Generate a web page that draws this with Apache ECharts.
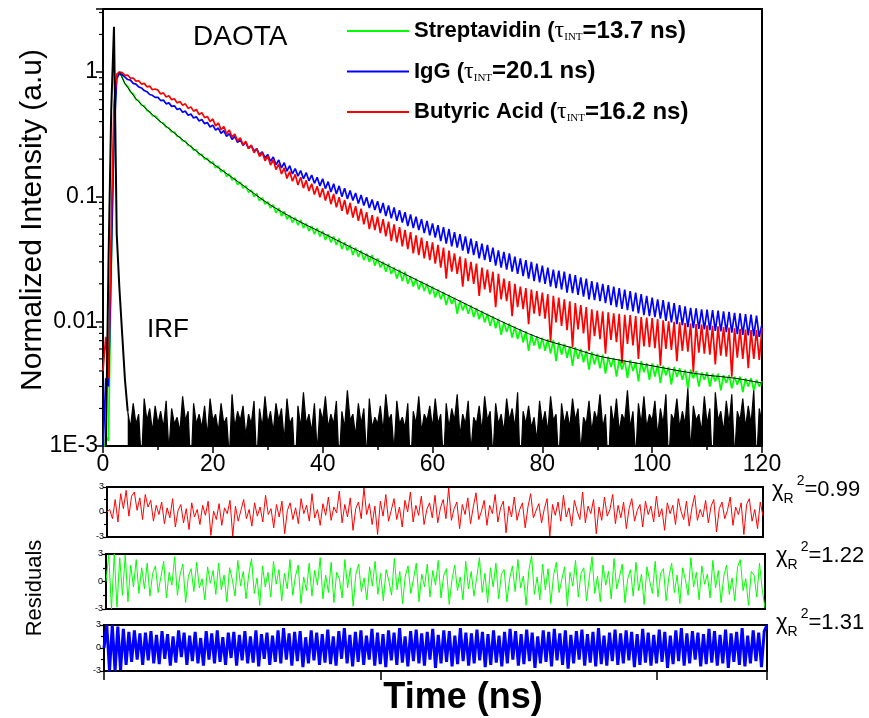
<!DOCTYPE html>
<html><head><meta charset="utf-8">
<script src="https://cdn.jsdelivr.net/npm/echarts/dist/echarts.min.js"></script>
<style>html,body{margin:0;padding:0;background:#fff}#c{width:869px;height:718px}</style>
</head><body><div id="c"></div><script>
// ---- data (time channel step in ns; every array starts at t = 0) ----
const timeStep = 0.5;
const xTickValues = [0, 20, 40, 60, 80, 100, 120];
const yTickValues = [0.001, 0.01, 0.1, 1];
const yTickLabels = ['1E-3', '0.01', '0.1', '1'];
const yMinorTicks = [0.002,0.003,0.004,0.005,0.006,0.007,0.008,0.009,0.02,0.03,0.04,0.05,0.06,0.07,0.08,0.09,0.2,0.3,0.4,0.5,0.6,0.7,0.8,0.9,2,3];
const seriesNames = ['Streptavidin', 'IgG', 'Butyric Acid'];
const tauInt = ['13.7', '20.1', '16.2'];
const chiSquared = ['0.99', '1.22', '1.31'];

const streptavidin = [
0.0007,0.0012,0.0011,0.025,0.38,0.93,
1.0,0.91,0.80,0.77,0.69,0.67,0.60,0.59,0.54,0.535,0.49,0.48,0.445,0.445,
0.42,0.395,0.39,0.36,0.355,0.33,0.33,0.305,0.30,0.28,0.279,0.258,0.255,0.236,0.237,0.216,0.218,0.20,0.203,0.186,
0.19,0.17,0.176,0.158,0.163,0.145,0.152,0.136,0.141,0.125,0.131,0.117,0.122,0.108,0.113,0.10,0.106,0.093,0.098,0.087,
0.091,0.081,0.086,0.074,0.081,0.07,0.076,0.066,0.071,0.062,0.068,0.059,0.065,0.056,0.061,0.053,0.058,0.05,0.056,0.048,
0.053,0.045,0.05,0.043,0.048,0.041,0.046,0.038,0.043,0.037,0.041,0.034,0.039,0.033,0.037,0.031,0.035,0.03,0.034,0.028,
0.032,0.027,0.030,0.025,0.029,0.024,0.027,0.022,0.026,0.021,0.025,0.020,0.023,0.019,0.022,0.018,0.021,0.0175,0.020,0.0165,
0.019,0.0155,0.018,0.015,0.0172,0.0135,0.0163,0.0138,0.0155,0.0115,0.0148,0.0122,0.014,0.0115,0.0134,0.0108,0.0128,0.0104,0.0121,0.0098,
0.0115,0.0092,0.011,0.0088,0.0105,0.0078,0.0099,0.0082,0.0096,0.0074,0.0091,0.0072,0.0087,0.0068,0.0083,0.0058,0.0079,0.0064,0.0076,0.006,
0.0074,0.0058,0.0072,0.0055,0.0071,0.0048,0.0068,0.0054,0.0066,0.0051,0.0063,0.0044,0.0062,0.005,0.006,0.0047,0.0058,0.0041,0.0057,0.0045,
0.0055,0.0042,0.0054,0.0038,0.0052,0.0043,0.0051,0.0036,0.005,0.0041,0.0049,0.0035,0.0049,0.004,0.0047,0.0033,0.0048,0.0039,0.0046,0.0034,
0.0046,0.0036,0.0045,0.0032,0.0044,0.0037,0.0043,0.0031,0.0043,0.0036,0.0042,0.0034,0.0041,0.0029,0.0041,0.0035,0.004,0.003,0.0039,0.0034,
0.0039,0.003,0.0038,0.0033,0.0038,0.0028,0.0037,0.0032,0.0037,0.0029,0.0036,0.0031,0.0036,0.0027,0.0035,0.003,0.0035,0.0028,0.0034,0.003,
0.0033];

const igg = [
0.0009,0.0035,0.003,0.03,0.3,0.88,
0.98,0.95,0.91,0.87,0.86,0.81,0.80,0.76,0.745,0.71,0.695,0.66,0.65,0.625,
0.625,0.59,0.595,0.555,0.565,0.53,0.535,0.50,0.51,0.475,0.485,0.45,0.46,0.428,0.438,0.405,0.415,0.385,0.393,0.362,
0.375,0.342,0.355,0.322,0.338,0.305,0.32,0.288,0.304,0.272,0.287,0.258,0.272,0.244,0.257,0.232,0.243,0.217,0.229,0.205,
0.218,0.192,0.208,0.18,0.197,0.17,0.187,0.16,0.177,0.152,0.168,0.146,0.162,0.139,0.156,0.134,0.149,0.128,0.143,0.122,
0.139,0.116,0.132,0.109,0.127,0.105,0.122,0.1,0.117,0.096,0.112,0.093,0.107,0.088,0.103,0.085,0.099,0.081,0.095,0.078,
0.092,0.074,0.089,0.07,0.085,0.067,0.082,0.064,0.078,0.062,0.075,0.058,0.072,0.056,0.069,0.054,0.066,0.051,0.064,0.049,
0.061,0.047,0.059,0.044,0.057,0.042,0.055,0.04,0.052,0.039,0.05,0.037,0.048,0.035,0.046,0.034,0.044,0.032,0.042,0.031,
0.041,0.03,0.039,0.028,0.037,0.027,0.036,0.026,0.035,0.025,0.033,0.024,0.032,0.023,0.031,0.022,0.03,0.021,0.029,0.0205,
0.028,0.02,0.027,0.019,0.026,0.0185,0.0255,0.018,0.025,0.017,0.024,0.0168,0.0235,0.0163,0.0225,0.0158,0.022,0.015,0.021,0.0148,
0.0205,0.0145,0.02,0.014,0.0195,0.0135,0.019,0.013,0.0185,0.0126,0.018,0.0123,0.0175,0.012,0.017,0.0116,0.0165,0.0112,0.016,0.011,
0.0155,0.0108,0.015,0.0105,0.0148,0.0101,0.0143,0.0098,0.014,0.0095,0.0135,0.0093,0.0132,0.009,0.0128,0.0088,0.0127,0.0087,0.0125,0.0086,
0.0124,0.0085,0.0123,0.0084,0.0122,0.0083,0.012,0.0082,0.0119,0.0081,0.0117,0.0079,0.0116,0.0078,0.0114,0.0077,0.0113,0.0076,0.0111,0.0075,
0.0095];

const butyricAcid = [
0.004,0.0075,0.0035,0.06,0.55,0.96,
1.0,0.99,0.94,0.945,0.89,0.895,0.845,0.85,0.80,0.81,0.76,0.77,0.72,0.73,
0.715,0.665,0.68,0.63,0.645,0.60,0.61,0.565,0.58,0.54,0.555,0.51,0.525,0.485,0.50,0.455,0.472,0.43,0.44,0.40,
0.42,0.37,0.39,0.345,0.365,0.32,0.342,0.30,0.318,0.28,0.297,0.26,0.278,0.243,0.26,0.225,0.242,0.21,0.225,0.194,
0.212,0.179,0.198,0.165,0.183,0.152,0.17,0.14,0.159,0.133,0.151,0.124,0.143,0.117,0.135,0.111,0.127,0.104,0.121,0.099,
0.117,0.093,0.111,0.087,0.105,0.082,0.099,0.077,0.094,0.072,0.089,0.068,0.084,0.064,0.08,0.06,0.075,0.055,0.071,0.054,
0.069,0.051,0.066,0.048,0.063,0.044,0.06,0.043,0.057,0.04,0.054,0.038,0.052,0.035,0.049,0.034,0.047,0.032,0.044,0.031,
0.043,0.029,0.041,0.027,0.039,0.022,0.037,0.025,0.035,0.024,0.033,0.019,0.032,0.021,0.03,0.02,0.029,0.016,0.027,0.018,
0.026,0.017,0.025,0.013,0.024,0.015,0.022,0.0145,0.021,0.011,0.02,0.013,0.019,0.0125,0.0185,0.0095,0.018,0.0115,0.0175,0.011,
0.017,0.0105,0.0165,0.0068,0.016,0.0098,0.0155,0.0092,0.015,0.0085,0.0145,0.0062,0.014,0.0086,0.0135,0.008,0.013,0.0058,0.0125,0.0076,
0.0122,0.0072,0.012,0.0055,0.0118,0.0071,0.0116,0.0068,0.0115,0.0046,0.0113,0.0066,0.0112,0.0064,0.011,0.005,0.0108,0.0063,0.0107,0.0062,
0.0106,0.0061,0.0104,0.0044,0.0102,0.006,0.01,0.0059,0.0099,0.0048,0.0098,0.0058,0.0097,0.0057,0.0096,0.0039,0.0095,0.0056,0.0094,0.0055,
0.0093,0.0054,0.0092,0.0045,0.0091,0.0053,0.009,0.0052,0.0089,0.0036,0.0088,0.0051,0.0087,0.005,0.0086,0.0042,0.0085,0.005,0.0085,0.0049,
0.0088];

// instrument response (IRF): peak followed by the dark-count floor
const irf = [
0.0006,0.0008,0.03,0.5,2.3,0.05,0.018,0.0078,0.0034,
0.0019,0.0014,0.0022,0.0015,0.0018,0.0007,0.0024,0.0016,0.002,0.0013,0.0021,
0.0015,0.0019,0.0014,0.0023,0.0009,0.002,0.0015,0.0017,0.0013,0.0025,0.0016,0.0019,0.0006,0.0022,0.0015,0.0018,0.0014,0.0021,0.0012,0.0024,
0.0016,0.0018,0.0013,0.0022,0.0015,0.0017,0.0008,0.0026,0.0014,0.0019,0.0016,0.0021,0.0012,0.0018,0.0015,0.0023,0.0007,0.002,0.0014,0.0025,
0.0015,0.0019,0.0013,0.0022,0.0016,0.002,0.0011,0.0024,0.0015,0.0017,0.0006,0.0021,0.0014,0.0027,0.0015,0.0018,0.0013,0.0022,0.0009,0.002,
0.0016,0.0025,0.0014,0.0018,0.0015,0.0023,0.0007,0.0019,0.0014,0.0028,0.0016,0.0018,0.0012,0.0022,0.0015,0.002,0.0008,0.0024,0.0014,0.0017,
0.0015,0.0021,0.0013,0.0026,0.0016,0.0018,0.0009,0.0023,0.0015,0.0017,0.0014,0.0022,0.0006,0.0019,0.0015,0.0025,0.0013,0.0018,0.0016,0.0021,
0.0014,0.0024,0.0015,0.0018,0.0007,0.0022,0.0014,0.002,0.0016,0.0026,0.0012,0.0018,0.0015,0.0023,0.0009,0.0017,0.0015,0.0021,0.0013,0.0025,
0.0016,0.0019,0.0008,0.0022,0.0015,0.0018,0.0013,0.0024,0.0016,0.002,0.0014,0.0027,0.0006,0.0019,0.0015,0.0021,0.0014,0.0017,0.0011,0.0023,
0.0015,0.0019,0.0013,0.0025,0.0016,0.0018,0.0007,0.0022,0.0015,0.0019,0.0014,0.0024,0.0016,0.002,0.0009,0.0017,0.0015,0.0023,0.0013,0.0019,
0.0016,0.0026,0.0014,0.0018,0.0006,0.0021,0.0015,0.0024,0.0013,0.0018,0.0016,0.0028,0.0014,0.0019,0.0008,0.0022,0.0015,0.0025,0.0014,0.0018,
0.0016,0.0023,0.0012,0.002,0.0015,0.0026,0.0007,0.0018,0.0016,0.0024,0.0014,0.0019,0.0015,0.0029,0.0009,0.0021,0.0016,0.0018,0.0013,0.0025,
0.0015,0.002,0.0006,0.0027,0.0016,0.0019,0.0013,0.0023,0.0015,0.0026,0.0008,0.0019,0.0016,0.0024,0.0014,0.0021,0.0015,0.0028,0.0007,0.002,
0.0015];
const irfPeakEnd = 9; // index where the IRF peak meets the dark-count floor (t = 4.5 ns)

const fitTime = [3,4,5,6,8,10,12,15,18,21,25,30,35,40,45,50,55,60,65,70,75,80,85,90,95,100,105,110,115,120];
const fitStreptavidin = [1.0,0.81,0.70,0.61,0.50,0.416,0.352,0.274,0.214,0.171,0.128,0.0885,0.0658,0.0511,0.0396,0.0308,0.0239,0.0186,0.0145,0.0113,0.0089,0.0072,0.0062,0.0053,0.0048,0.0044,0.0040,0.0037,0.0035,0.0032];

const residButyric = [
0,0.3,-0.8,1.5,-1.2,2.2,0.4,2.6,-0.5,1.9,2.4,0.2,1.7,-0.9,2.1,0.6,1.4,-1.1,0.8,-0.3,
1.2,-1.4,0.5,-0.7,1.6,-1.8,0.2,0.9,-1.3,0.4,-2.1,1.1,-0.6,0.3,-1.5,0.8,-0.4,1.3,-2.8,0.1,
-0.9,1.0,-1.6,0.5,-0.2,1.4,-2.9,0.7,-1.1,0.2,1.5,-0.8,0.3,-1.7,1.1,-0.5,0.6,-1.2,2.0,-0.3,
0.4,-1.9,0.9,-0.6,1.3,-2.6,0.2,1.1,-0.9,0.5,-1.4,1.6,-0.2,0.8,-1.1,2.2,-0.7,0.3,-1.6,1.0,
-0.4,1.8,-1.0,0.6,-0.1,2.5,-1.3,0.9,-0.6,1.7,-2.2,0.4,1.2,-0.8,2.9,-0.3,1.0,-1.5,0.7,-2.7,
1.3,-0.5,2.1,-1.1,0.2,1.6,-0.9,0.6,-1.8,1.4,0.0,2.4,-1.2,0.8,-0.4,1.9,-1.5,0.3,1.1,-0.7,
2.0,-1.3,0.5,1.5,-0.8,2.9,-1.0,0.4,1.2,-2.0,0.9,-0.3,1.7,-1.4,0.6,2.3,-0.9,0.1,1.4,-1.6,
0.8,-0.2,2.1,-1.2,0.5,1.3,-2.5,0.7,-0.6,1.8,-1.0,0.3,1.1,-1.9,0.6,2.2,-0.7,0.2,1.0,-1.3,
0.4,1.6,-2.9,0.9,-0.4,1.2,-1.1,2.0,-0.6,0.5,-1.7,1.4,0.1,-0.9,2.4,-1.3,0.7,-0.2,1.5,-2.6,
0.6,-1.0,1.8,-0.5,0.3,2.1,-1.4,0.8,-0.7,1.2,-2.0,0.4,1.6,-1.1,0.2,0.9,-1.8,1.3,-0.3,0.7,
-1.2,1.9,-0.6,0.4,-2.2,1.1,-0.2,0.8,-1.5,1.6,0.1,-0.9,1.3,-1.7,0.5,2.0,-1.0,0.3,-0.6,1.4,
-1.3,0.7,1.5,-2.4,0.4,1.2,-0.8,0.2,1.8,-1.6,0.6,-0.3,1.1,-2.7,0.9,1.6,-1.1,0.3,-2.0,1.2,
-0.5];

const residStreptavidin = [
0,2.9,-3,3,-2.8,2.6,-1.5,2.9,-2.2,1.8,-0.6,2.4,-1.3,1.5,-0.8,2.0,-1.6,0.9,1.7,-1.2,
0.5,2.2,-1.8,1.0,-0.4,2.7,-1.5,0.8,1.9,-2.3,0.6,1.4,-1.1,2.1,-0.7,0.3,-2.0,1.6,-0.2,1.2,
-1.4,2.0,-0.9,0.7,-2.2,1.5,0.2,-1.6,2.3,-0.5,1.1,-1.9,0.8,2.5,-1.3,0.4,-2.6,1.7,-0.6,1.0,
-1.7,2.2,-0.3,1.3,-2.1,0.9,-0.8,2.4,-1.5,0.6,1.8,-2.4,0.5,-1.0,2.0,-1.6,1.2,-0.4,2.6,-1.9,
0.7,-1.2,2.1,-2.3,1.0,0.3,-1.8,2.4,-0.7,1.5,-2.7,0.8,1.9,-1.1,0.4,-2.0,1.6,-0.5,2.2,-1.4,
0.9,-2.1,1.3,0.1,-1.5,2.5,-0.9,1.1,-2.4,0.6,1.7,-1.3,0.3,2.0,-2.2,0.8,-0.6,1.9,-1.7,1.2,
-0.4,2.3,-1.8,0.7,1.4,-2.5,0.2,1.8,-1.0,0.5,-2.0,2.2,-0.8,1.1,-1.6,0.4,2.6,-1.2,0.9,-2.3,
1.5,-0.6,2.0,-1.9,0.8,1.3,-2.2,0.3,1.7,-1.1,2.4,-0.7,0.6,-2.6,1.2,2.8,-1.4,0.5,-2.0,1.9,
-0.9,1.4,-2.4,0.7,2.1,-1.2,0.2,1.6,-2.7,1.0,-0.5,2.3,-1.7,0.9,1.5,-2.1,0.4,2.7,-1.3,0.6,
-2.2,1.8,-0.4,1.1,-1.9,2.5,-0.8,0.5,1.9,-2.3,0.3,1.3,-1.6,2.1,-1.0,0.8,-2.5,1.6,0.1,-1.3,
2.2,-1.7,0.9,1.4,-2.1,0.5,2.0,-1.2,0.7,-2.4,1.5,0.2,-1.5,2.6,-0.6,1.0,-2.0,1.7,-0.3,0.8,
-1.8,2.3,-0.7,1.2,-2.3,0.6,1.8,-1.4,0.4,-2.1,1.6,2.4,-1.0,0.3,-2.6,1.1,0.7,-1.7,2.0,-0.9,
-2.9];

const residIgG = [
0,3,-3,3,-3,2.8,-2.9,2.5,-2.2,2.1,-1.8,2.3,-1.5,1.9,-2.2,2.0,-1.6,2.2,-2.0,1.7,
-2.1,2.2,-1.4,1.8,-2.3,1.5,-1.9,2.3,-1.2,2.0,-2.2,1.6,-1.7,2.1,-2.0,1.3,-2.3,2.2,-1.5,1.9,
-2.0,2.3,-1.8,1.4,-2.2,2.0,-1.3,2.1,-2.3,1.7,-1.6,2.2,-2.0,1.5,-1.9,2.3,-2.4,1.8,-1.4,2.0,
-2.2,1.6,-1.8,2.3,-2.0,2.6,-1.5,1.9,-2.3,2.1,-1.7,2.2,-2.5,1.4,-2.0,2.3,-1.6,2.0,-2.2,1.8,
-1.9,2.4,-2.1,1.5,-2.3,2.2,-1.4,2.6,-2.0,1.7,-2.4,2.1,-1.8,2.3,-2.2,1.6,-1.5,2.5,-2.3,2.0,
-2.1,1.8,-2.5,2.3,-1.6,2.0,-2.2,2.6,-1.9,1.5,-2.4,2.2,-1.7,2.4,-2.0,1.9,-2.3,2.1,-1.5,2.5,
-2.6,1.7,-2.0,2.3,-1.8,2.2,-2.4,1.6,-2.1,2.6,-1.7,2.0,-2.3,1.9,-2.0,2.4,-1.6,2.1,-2.5,1.8,
-2.2,2.3,-1.9,1.6,-2.4,2.1,-2.0,2.5,-1.5,2.2,-2.3,1.8,-2.1,2.4,-1.7,2.0,-2.6,1.5,-2.0,2.3,
-1.8,2.1,-2.4,2.5,-1.6,1.9,-2.2,2.3,-2.7,1.7,-2.0,2.2,-1.5,2.4,-2.3,1.8,-1.9,2.1,-2.4,2.6,
-2.1,1.6,-2.3,2.0,-1.7,2.4,-2.2,1.9,-2.0,2.3,-1.6,2.1,-2.5,1.8,-2.2,2.5,-1.9,2.0,-2.3,1.7,
-2.0,2.4,-1.8,2.1,-2.6,1.6,-2.1,2.3,-1.7,2.6,-2.3,1.9,-2.0,2.2,-1.5,2.0,-2.4,1.8,-2.1,2.5,
-1.9,2.2,-2.3,1.7,-2.0,2.4,-2.6,1.9,-1.8,2.1,-2.2,2.6,-2.4,1.6,-2.0,2.3,-1.7,2.0,-2.5,2.2,
3];

// ---- chart ----
const FONT = 'Liberation Sans';
const SERIF = 'Liberation Serif';
const toPoints = arr => arr.map((v, i) => [i * timeStep, v]);
const GREEN = '#00ff00', BLUE = '#0000ff', RED = '#ff0000';
const irfPoints = toPoints(irf);

const axisLineStyle = { show: true, onZero: false, lineStyle: { color: '#000', width: 2 } };

function residX(gridIndex, ticks) {
  return {
    gridIndex, type: 'value', min: 0, max: 120, interval: 50,
    axisLine: axisLineStyle,
    axisTick: { show: ticks, length: 9, lineStyle: { color: '#000', width: 1.5 } },
    axisLabel: { show: false }, splitLine: { show: false }
  };
}
function residY(gridIndex) {
  return {
    gridIndex, type: 'value', min: -3, max: 3, interval: 3,
    axisLine: axisLineStyle,
    axisTick: { show: true, length: 4, lineStyle: { color: '#000', width: 1.2 } },
    minorTick: { show: true, splitNumber: 2, length: 3, lineStyle: { color: '#000', width: 1.2 } },
    axisLabel: { color: '#000', fontSize: 9, fontFamily: FONT, margin: 3 },
    splitLine: { show: false }
  };
}

const legendRich = {
  b: { fontSize: 22, fontWeight: 'bold', fontFamily: FONT, color: '#000', lineHeight: 26 },
  t: { fontSize: 24, fontFamily: SERIF, color: '#000', lineHeight: 26 },
  s: { fontSize: 11, fontFamily: SERIF, color: '#000', padding: [13, 0, 0, 0], lineHeight: 12 },
  e: { fontSize: 24, fontWeight: 'bold', fontFamily: FONT, color: '#000', lineHeight: 26 }
};

const chiRich = {
  c: { fontSize: 22, fontFamily: FONT, fill: '#000' },
  r: { fontSize: 14, fontFamily: FONT, fill: '#000', padding: [18, 0, 0, 0], lineHeight: 14 },
  p: { fontSize: 14, fontFamily: FONT, fill: '#000', padding: [0, 0, 18, 3], lineHeight: 14 },
  n: { fontSize: 22, fontFamily: FONT, fill: '#000' }
};
const chiPos = [[772, 490], [776, 556], [776, 623]];

const option = {
  animation: false,
  backgroundColor: '#fff',
  grid: [
    { left: 103, top: 9, width: 659, height: 437, show: true, borderColor: '#000', borderWidth: 2 },
    { left: 107, top: 487, width: 656, height: 50, show: true, borderColor: '#000', borderWidth: 2 },
    { left: 106, top: 554, width: 659, height: 55, show: true, borderColor: '#000', borderWidth: 2 },
    { left: 104, top: 625, width: 663, height: 46, show: true, borderColor: '#000', borderWidth: 2 }
  ],
  xAxis: [
    {
      gridIndex: 0, type: 'value', min: xTickValues[0], max: xTickValues[xTickValues.length - 1], interval: 20,
      axisLine: axisLineStyle,
      axisTick: { show: true, length: 7, lineStyle: { color: '#000', width: 1.5 } },
      minorTick: { show: true, splitNumber: 2, length: 4, lineStyle: { color: '#000', width: 1.5 } },
      axisLabel: { color: '#000', fontSize: 23, fontFamily: FONT, margin: 7 },
      splitLine: { show: false }
    },
    residX(1, false), residX(2, false), residX(3, true)
  ],
  yAxis: [
    {
      gridIndex: 0, type: 'log', logBase: 10, min: yTickValues[0], max: 3.2,
      axisLine: axisLineStyle,
      axisTick: { show: true, length: 7, lineStyle: { color: '#000', width: 1.5 } },
      axisLabel: {
        color: '#000', fontSize: 23, fontFamily: FONT, margin: 5,
        formatter: v => {
          const e = Math.log10(v);
          if (Math.abs(e - Math.round(e)) > 1e-6) return '';
          const idx = yTickValues.findIndex(t => Math.abs(Math.log10(t) - e) < 1e-6);
          return idx >= 0 ? yTickLabels[idx] : '';
        }
      },
      splitLine: { show: false }
    },
    residY(1), residY(2), residY(3)
  ],
  legend: {
    data: seriesNames, orient: 'vertical', left: 342, top: 14,
    itemWidth: 62, itemHeight: 2, icon: 'rect', itemGap: 16.5, selectedMode: false,
    formatter: name => {
      const i = seriesNames.indexOf(name);
      return `{b|${name} (}{t|τ}{s|INT}{e|=${tauInt[i]} ns)}`;
    },
    textStyle: { rich: legendRich }
  },
  series: [
    { name: seriesNames[0], type: 'line', xAxisIndex: 0, yAxisIndex: 0, data: toPoints(streptavidin),
      symbol: 'none', lineStyle: { color: GREEN, width: 1.7 }, itemStyle: { color: GREEN }, clip: true },
    { name: seriesNames[1], type: 'line', xAxisIndex: 0, yAxisIndex: 0, data: toPoints(igg),
      symbol: 'none', lineStyle: { color: BLUE, width: 1.7 }, itemStyle: { color: BLUE }, clip: true },
    { name: seriesNames[2], type: 'line', xAxisIndex: 0, yAxisIndex: 0, data: toPoints(butyricAcid),
      symbol: 'none', lineStyle: { color: RED, width: 1.7 }, itemStyle: { color: RED }, clip: true },
    { name: 'fit', type: 'line', xAxisIndex: 0, yAxisIndex: 0, data: fitTime.map((t, i) => [t, fitStreptavidin[i]]),
      symbol: 'none', smooth: 0.3, lineStyle: { color: '#000', width: 1 }, clip: true },
    { name: 'IRF', type: 'line', xAxisIndex: 0, yAxisIndex: 0, data: irfPoints.slice(0, irfPeakEnd + 1),
      symbol: 'none', lineStyle: { color: '#000', width: 2 }, clip: true },
    { name: 'IRF floor', type: 'line', xAxisIndex: 0, yAxisIndex: 0, data: irfPoints.slice(irfPeakEnd),
      symbol: 'none', lineStyle: { color: '#000', width: 1.2 }, areaStyle: { color: '#000', opacity: 1, origin: 'start' }, clip: true },
    { name: 'yMinor', type: 'custom', xAxisIndex: 0, yAxisIndex: 0, silent: true, clip: false,
      data: yMinorTicks.map(v => [0, v]),
      renderItem: (params, api) => {
        const p = api.coord([0, api.value(1)]);
        return { type: 'line', shape: { x1: p[0] - 4, y1: p[1], x2: p[0], y2: p[1] }, style: { stroke: '#000', lineWidth: 1.2 } };
      } },
    { name: 'resButyric', type: 'line', xAxisIndex: 1, yAxisIndex: 1, data: toPoints(residButyric),
      symbol: 'none', lineStyle: { color: RED, width: 1 }, clip: true },
    { name: 'resStrep', type: 'line', xAxisIndex: 2, yAxisIndex: 2, data: toPoints(residStreptavidin),
      symbol: 'none', lineStyle: { color: GREEN, width: 1 }, clip: true },
    { name: 'resIgG', type: 'line', xAxisIndex: 3, yAxisIndex: 3, data: toPoints(residIgG),
      symbol: 'none', lineStyle: { color: BLUE, width: 3 }, clip: true }
  ],
  graphic: [
    { type: 'text', x: 193, y: 37, style: { text: 'DAOTA', fontSize: 28, fontFamily: FONT, fill: '#000', verticalAlign: 'middle' } },
    { type: 'text', x: 147, y: 330, style: { text: 'IRF', fontSize: 26, fontFamily: FONT, fill: '#000', verticalAlign: 'middle' } },
    { type: 'text', x: 33, y: 220, rotation: Math.PI / 2,
      style: { text: 'Normalized Intensity (a.u)', fontSize: 30, fontFamily: FONT, fill: '#000', align: 'center', verticalAlign: 'middle' } },
    { type: 'text', x: 35, y: 588, rotation: Math.PI / 2,
      style: { text: 'Residuals', fontSize: 22, fontFamily: FONT, fill: '#000', align: 'center', verticalAlign: 'middle' } },
    { type: 'text', x: 463, y: 698,
      style: { text: 'Time (ns)', fontSize: 36, fontWeight: 'bold', fontFamily: FONT, fill: '#000', align: 'center', verticalAlign: 'middle' } }
  ].concat(chiSquared.map((c, i) => ({
    type: 'text', x: chiPos[i][0], y: chiPos[i][1],
    style: { text: `{c|χ}{r|R}{p|2}{n|=${c}}`, rich: chiRich, verticalAlign: 'middle' }
  })))
};

const chart = echarts.init(document.getElementById('c'), null, { renderer: 'canvas' });
chart.setOption(option);
</script></body></html>
